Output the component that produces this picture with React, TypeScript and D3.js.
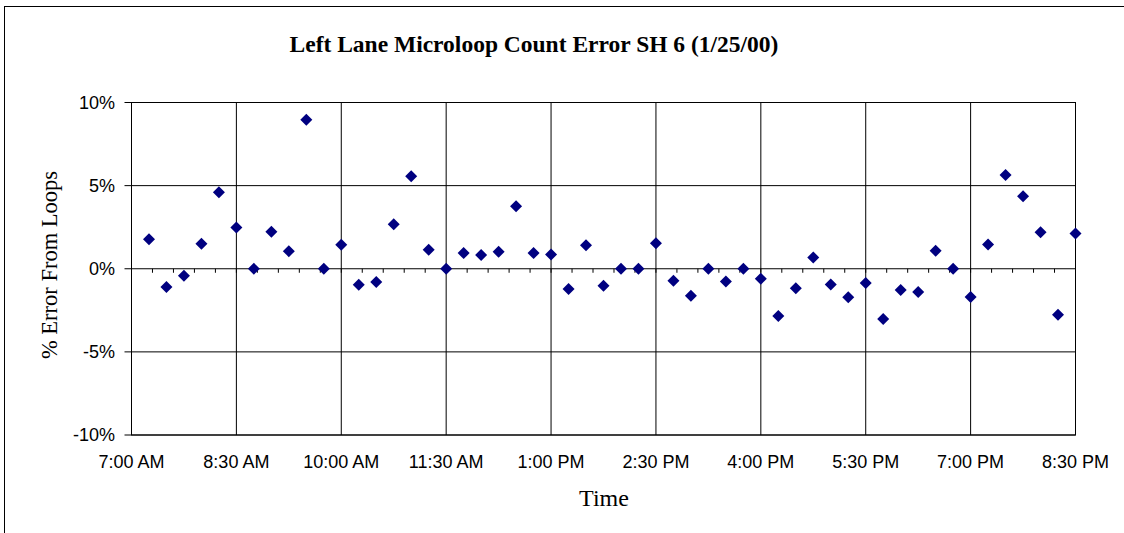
import React from "react";
import * as d3 from "d3";

const times = [
  "7:15", "7:30", "7:45", "8:00", "8:15", "8:30", "8:45", "9:00", "9:15", "9:30", "9:45",
  "10:00", "10:15", "10:30", "10:45", "11:00", "11:15", "11:30", "11:45", "12:00", "12:15",
  "12:30", "12:45", "13:00", "13:15", "13:30", "13:45", "14:00", "14:15", "14:30", "14:45",
  "15:00", "15:15", "15:30", "15:45", "16:00", "16:15", "16:30", "16:45", "17:00", "17:15",
  "17:30", "17:45", "18:00", "18:15", "18:30", "18:45", "19:00", "19:15", "19:30", "19:45",
  "20:00", "20:15", "20:30",
];

const errorPct = [
  1.78, -1.1, -0.42, 1.5, 4.6, 2.48, 0, 2.22, 1.06, 8.96, 0,
  1.45, -0.96, -0.8, 2.68, 5.56, 1.14, 0, 0.94, 0.82, 1.02,
  3.76, 0.94, 0.86, -1.22, 1.42, -1.02, 0, 0, 1.54, -0.72,
  -1.62, 0, -0.76, 0, -0.6, -2.84, -1.17, 0.68, -0.94, -1.72,
  -0.86, -3.02, -1.28, -1.4, 1.08, 0, -1.7, 1.46, 5.64, 4.36,
  2.2, -2.76, 2.12,
];

const xTickLabels = [
  "7:00 AM", "8:30 AM", "10:00 AM", "11:30 AM", "1:00 PM", "2:30 PM",
  "4:00 PM", "5:30 PM", "7:00 PM", "8:30 PM",
];
const yTicks = [10, 5, 0, -5, -10];

const title = "Left Lane Microloop Count Error SH 6 (1/25/00)";
const xTitle = "Time";
const yTitle = "% Error From Loops";

const toMin = (t: string) => {
  const [h, m] = t.split(":").map(Number);
  return h * 60 + m;
};

export default function App() {
  const W = 1124;
  const H = 533;
  const left = 131.5, right = 1075.5, top = 102.5, bottom = 435;
  const x = d3.scaleLinear().domain([420, 1230]).range([left, right]);
  const y = d3.scaleLinear().domain([-10, 10]).range([bottom, top]);
  const majorTimes = d3.range(420, 1231, 90);
  const minorTimes = d3.range(420, 1231, 18);
  const sans = "'Liberation Sans', Arial, sans-serif";
  const serif = "'Liberation Serif', 'Times New Roman', serif";
  const r = 6;
  const diamond = (cx: number, cy: number) =>
    `M${cx},${cy - r}L${cx + r},${cy}L${cx},${cy + r}L${cx - r},${cy}Z`;

  return (
    <div style={{ position: "absolute", left: 0, top: 0 }}>
      <svg width={W} height={H} style={{ display: "block", background: "#fff" }}>
        <rect x={4.5} y={6.5} width={1140} height={560} fill="#fff" stroke="#000" strokeWidth={1} />
        <text x={534} y={52} textAnchor="middle" fontFamily={serif} fontWeight="bold" fontSize={23.5}>
          {title}
        </text>
        {/* horizontal gridlines */}
        {yTicks.map((v) => (
          <line key={"hg" + v} x1={left - 7} x2={right} y1={y(v)} y2={y(v)} stroke="#000" strokeWidth={1} />
        ))}
        {/* vertical gridlines */}
        {majorTimes.map((t) => (
          <line key={"vg" + t} x1={x(t)} x2={x(t)} y1={top} y2={bottom} stroke="#000" strokeWidth={1} />
        ))}
        {/* minor ticks on zero axis */}
        {minorTimes.map((t) => (
          <line key={"mt" + t} x1={x(t)} x2={x(t)} y1={y(0)} y2={y(0) + 4} stroke="#000" strokeWidth={1} />
        ))}
        <rect x={left} y={top} width={right - left} height={bottom - top} fill="none" stroke="#000" strokeWidth={1} />
        {yTicks.map((v) => (
          <text key={"yl" + v} x={115} y={y(v)} dy="0.35em" textAnchor="end" fontFamily={sans} fontSize={18}>
            {v + "%"}
          </text>
        ))}
        {majorTimes.map((t, i) => (
          <text key={"xl" + t} x={x(t)} y={467.5} textAnchor="middle" fontFamily={sans} fontSize={18}>
            {xTickLabels[i]}
          </text>
        ))}
        {times.map((t, i) => (
          <path key={"p" + i} d={diamond(x(toMin(t)), y(errorPct[i]))} fill="#000080" />
        ))}
        <text x={604} y={506} textAnchor="middle" fontFamily={serif} fontSize={24}>
          {xTitle}
        </text>
        <text
          transform={`translate(57,265) rotate(-90)`}
          textAnchor="middle"
          fontFamily={serif}
          fontSize={22.5}
        >
          {yTitle}
        </text>
      </svg>
    </div>
  );
}
